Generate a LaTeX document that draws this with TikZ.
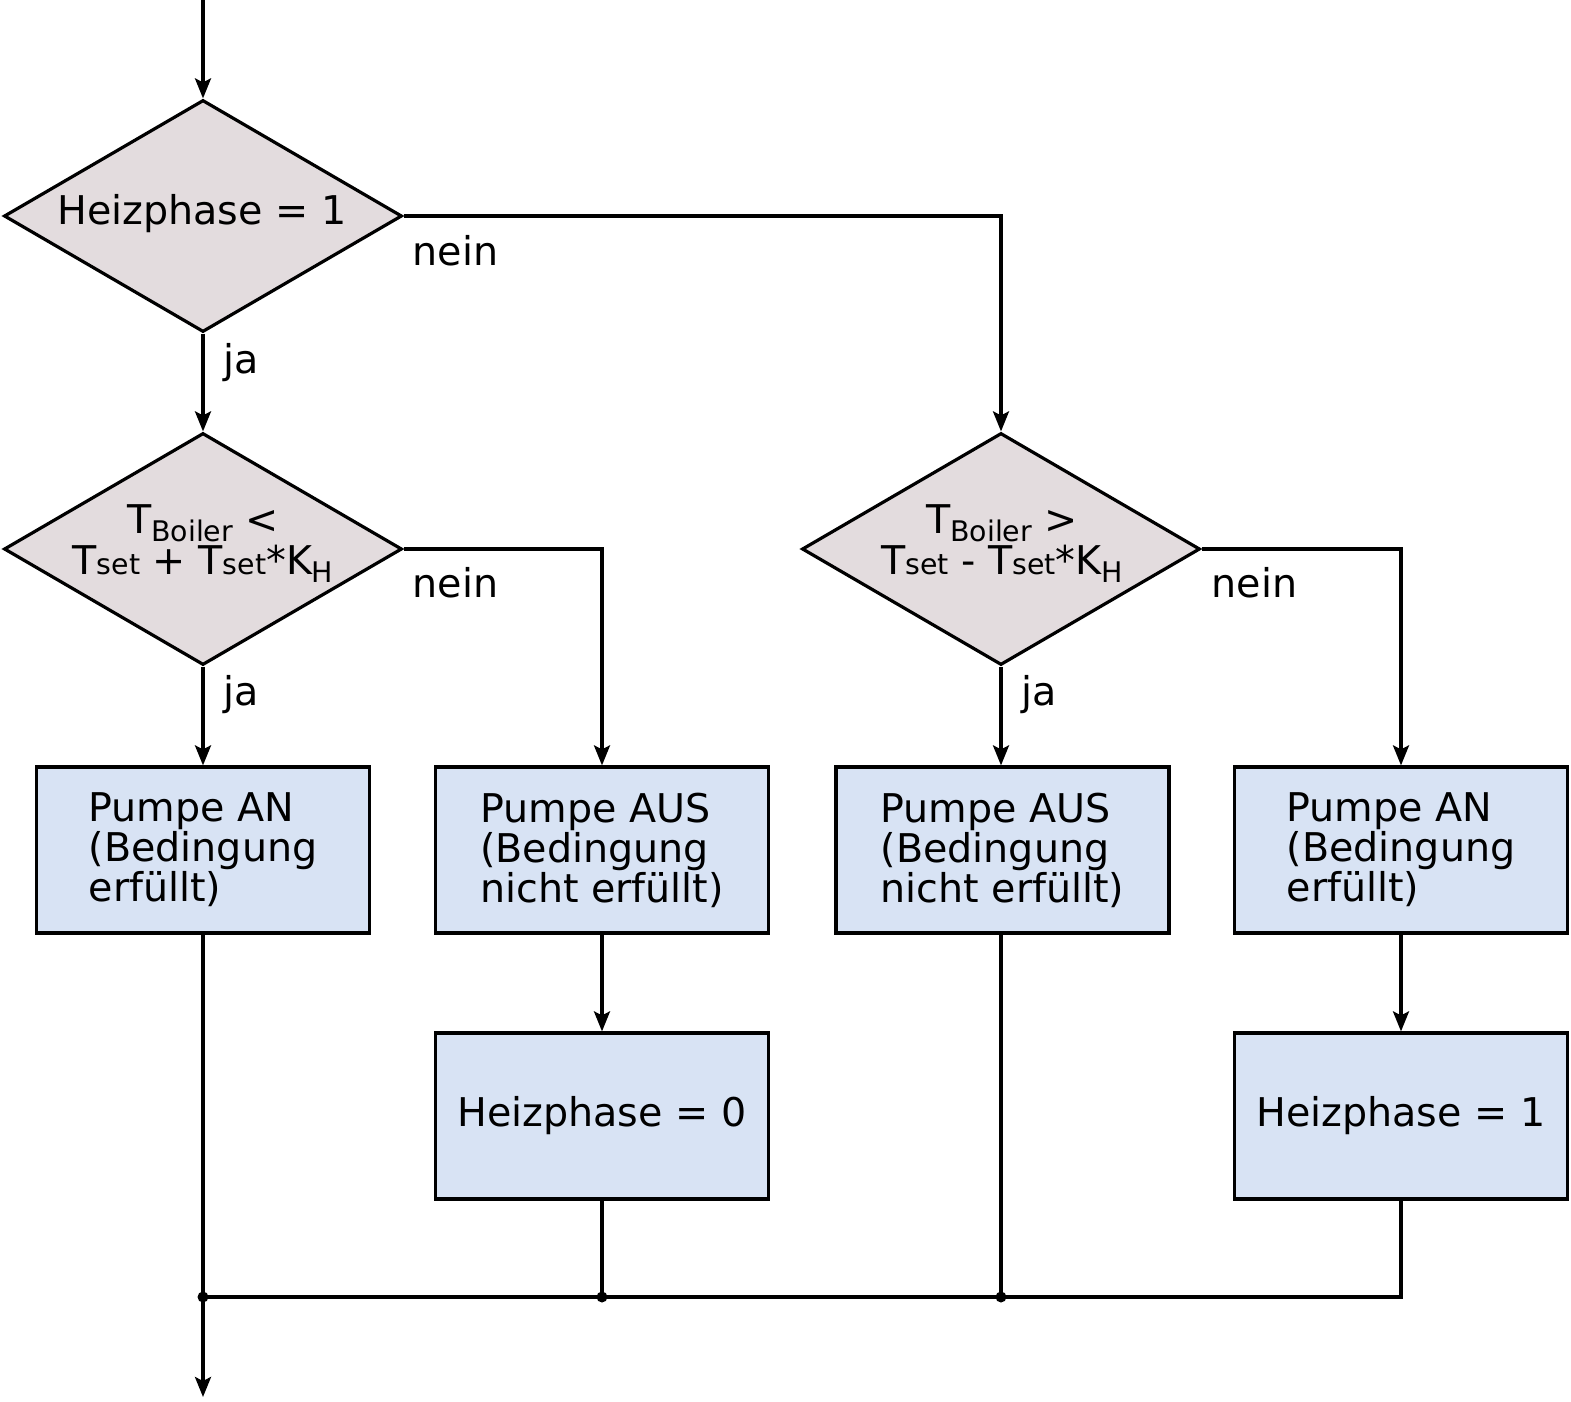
\documentclass[tikz,border=0pt]{standalone}
\usepackage{fontspec}
\setmainfont{DejaVu Sans}
\usetikzlibrary{shapes.geometric,arrows.meta}
\definecolor{diafill}{RGB}{227,220,222}
\definecolor{boxfill}{RGB}{216,227,244}
\newcommand\lsub[1]{\raisebox{-4pt}[0pt][0pt]{\fontsize{14.2}{14}\selectfont #1}}
\newcommand\smtxt[1]{{\fontsize{14.2}{14}\selectfont #1}}
\begin{document}
\begin{tikzpicture}[x=0.5pt,y=-0.5pt, line width=1.6pt,
 every node/.style={font=\fontsize{19.8}{20}\selectfont},
 dia/.style={draw, diamond, fill=diafill, minimum width=199pt, minimum height=116pt, inner sep=0pt},
 box/.style={draw, rectangle, fill=boxfill, minimum width=166.5pt, minimum height=83pt, inner sep=0pt, align=left},
 lbl/.style={inner sep=0pt, anchor=base west},
 dtext/.style={align=center, inner sep=0pt, font=\fontsize{19.8}{20.5}\selectfont},
 arr/.style={-{Stealth[length=10pt,width=8pt,inset=2pt]}},
 jdot/.style={circle, fill, inner sep=0pt, minimum size=5.5pt}]
\useasboundingbox (0,0) rectangle (1571,1402);
\coordinate (start) at (203,0);
\coordinate (j1) at (203,1297);
\coordinate (end) at (203,1397);

\node[dia] (d1) at (203,216) {};
\node[inner sep=0pt] (t1) at (202,214) {Heizphase = 1};
\node[dia] (d2) at (203,549) {};
\node[dtext] (t2) at (203,540) {T\lsub{Boiler} <\\T\smtxt{set} + T\smtxt{set}*K\lsub{H}};
\node[dia] (d3) at (1001,549) {};
\node[dtext] (t3) at (1002,540) {T\lsub{Boiler} >\\T\smtxt{set} - T\smtxt{set}*K\lsub{H}};

\node[box] (b1) at (203,850) {Pumpe AN\\(Bedingung\\erfüllt)};
\node[box] (b2) at (602,850) {Pumpe AUS\\(Bedingung\\nicht erfüllt)};
\node[box] (b3) at (1002.5,850) {Pumpe AUS\\(Bedingung\\nicht erfüllt)};
\node[box] (b4) at (1401,850) {Pumpe AN\\(Bedingung\\erfüllt)};
\node[box] (b5) at (602,1116) {Heizphase = 0};
\node[box] (b6) at (1401,1116) {Heizphase = 1};

\node[lbl] (n1) at (411,265) {nein};
\node[lbl] (y1) at (222,373) {ja};
\node[lbl] (n2) at (411,597) {nein};
\node[lbl] (y2) at (222,705) {ja};
\node[lbl] (n3) at (1210,597) {nein};
\node[lbl] (y3) at (1020,705) {ja};

\draw[arr] (start) -- (d1.north);
\draw[arr] (d1.south) -- (d2.north);
\draw[arr] (d1.east) -| (d3.north);
\draw[arr] (d2.south) -- (b1.north);
\draw[arr] (d2.east) -| (b2.north);
\draw[arr] (d3.south) -- (d3.south |- b3.north);
\draw[arr] (d3.east) -| (b4.north);
\draw[arr] (b2.south) -- (b5.north);
\draw[arr] (b4.south) -- (b6.north);

\draw (b1.south) -- (j1);
\draw[arr] (j1) -- (end);
\draw (b6.south) |- (j1);
\draw (b5.south) -- (b5.south |- j1);
\draw (d3.south |- b3.south) -- (d3.south |- j1);
\node[jdot] (p1) at (j1) {};
\node[jdot] (p2) at (b5.south |- j1) {};
\node[jdot] (p3) at (d3.south |- j1) {};
\end{tikzpicture}
\end{document}
